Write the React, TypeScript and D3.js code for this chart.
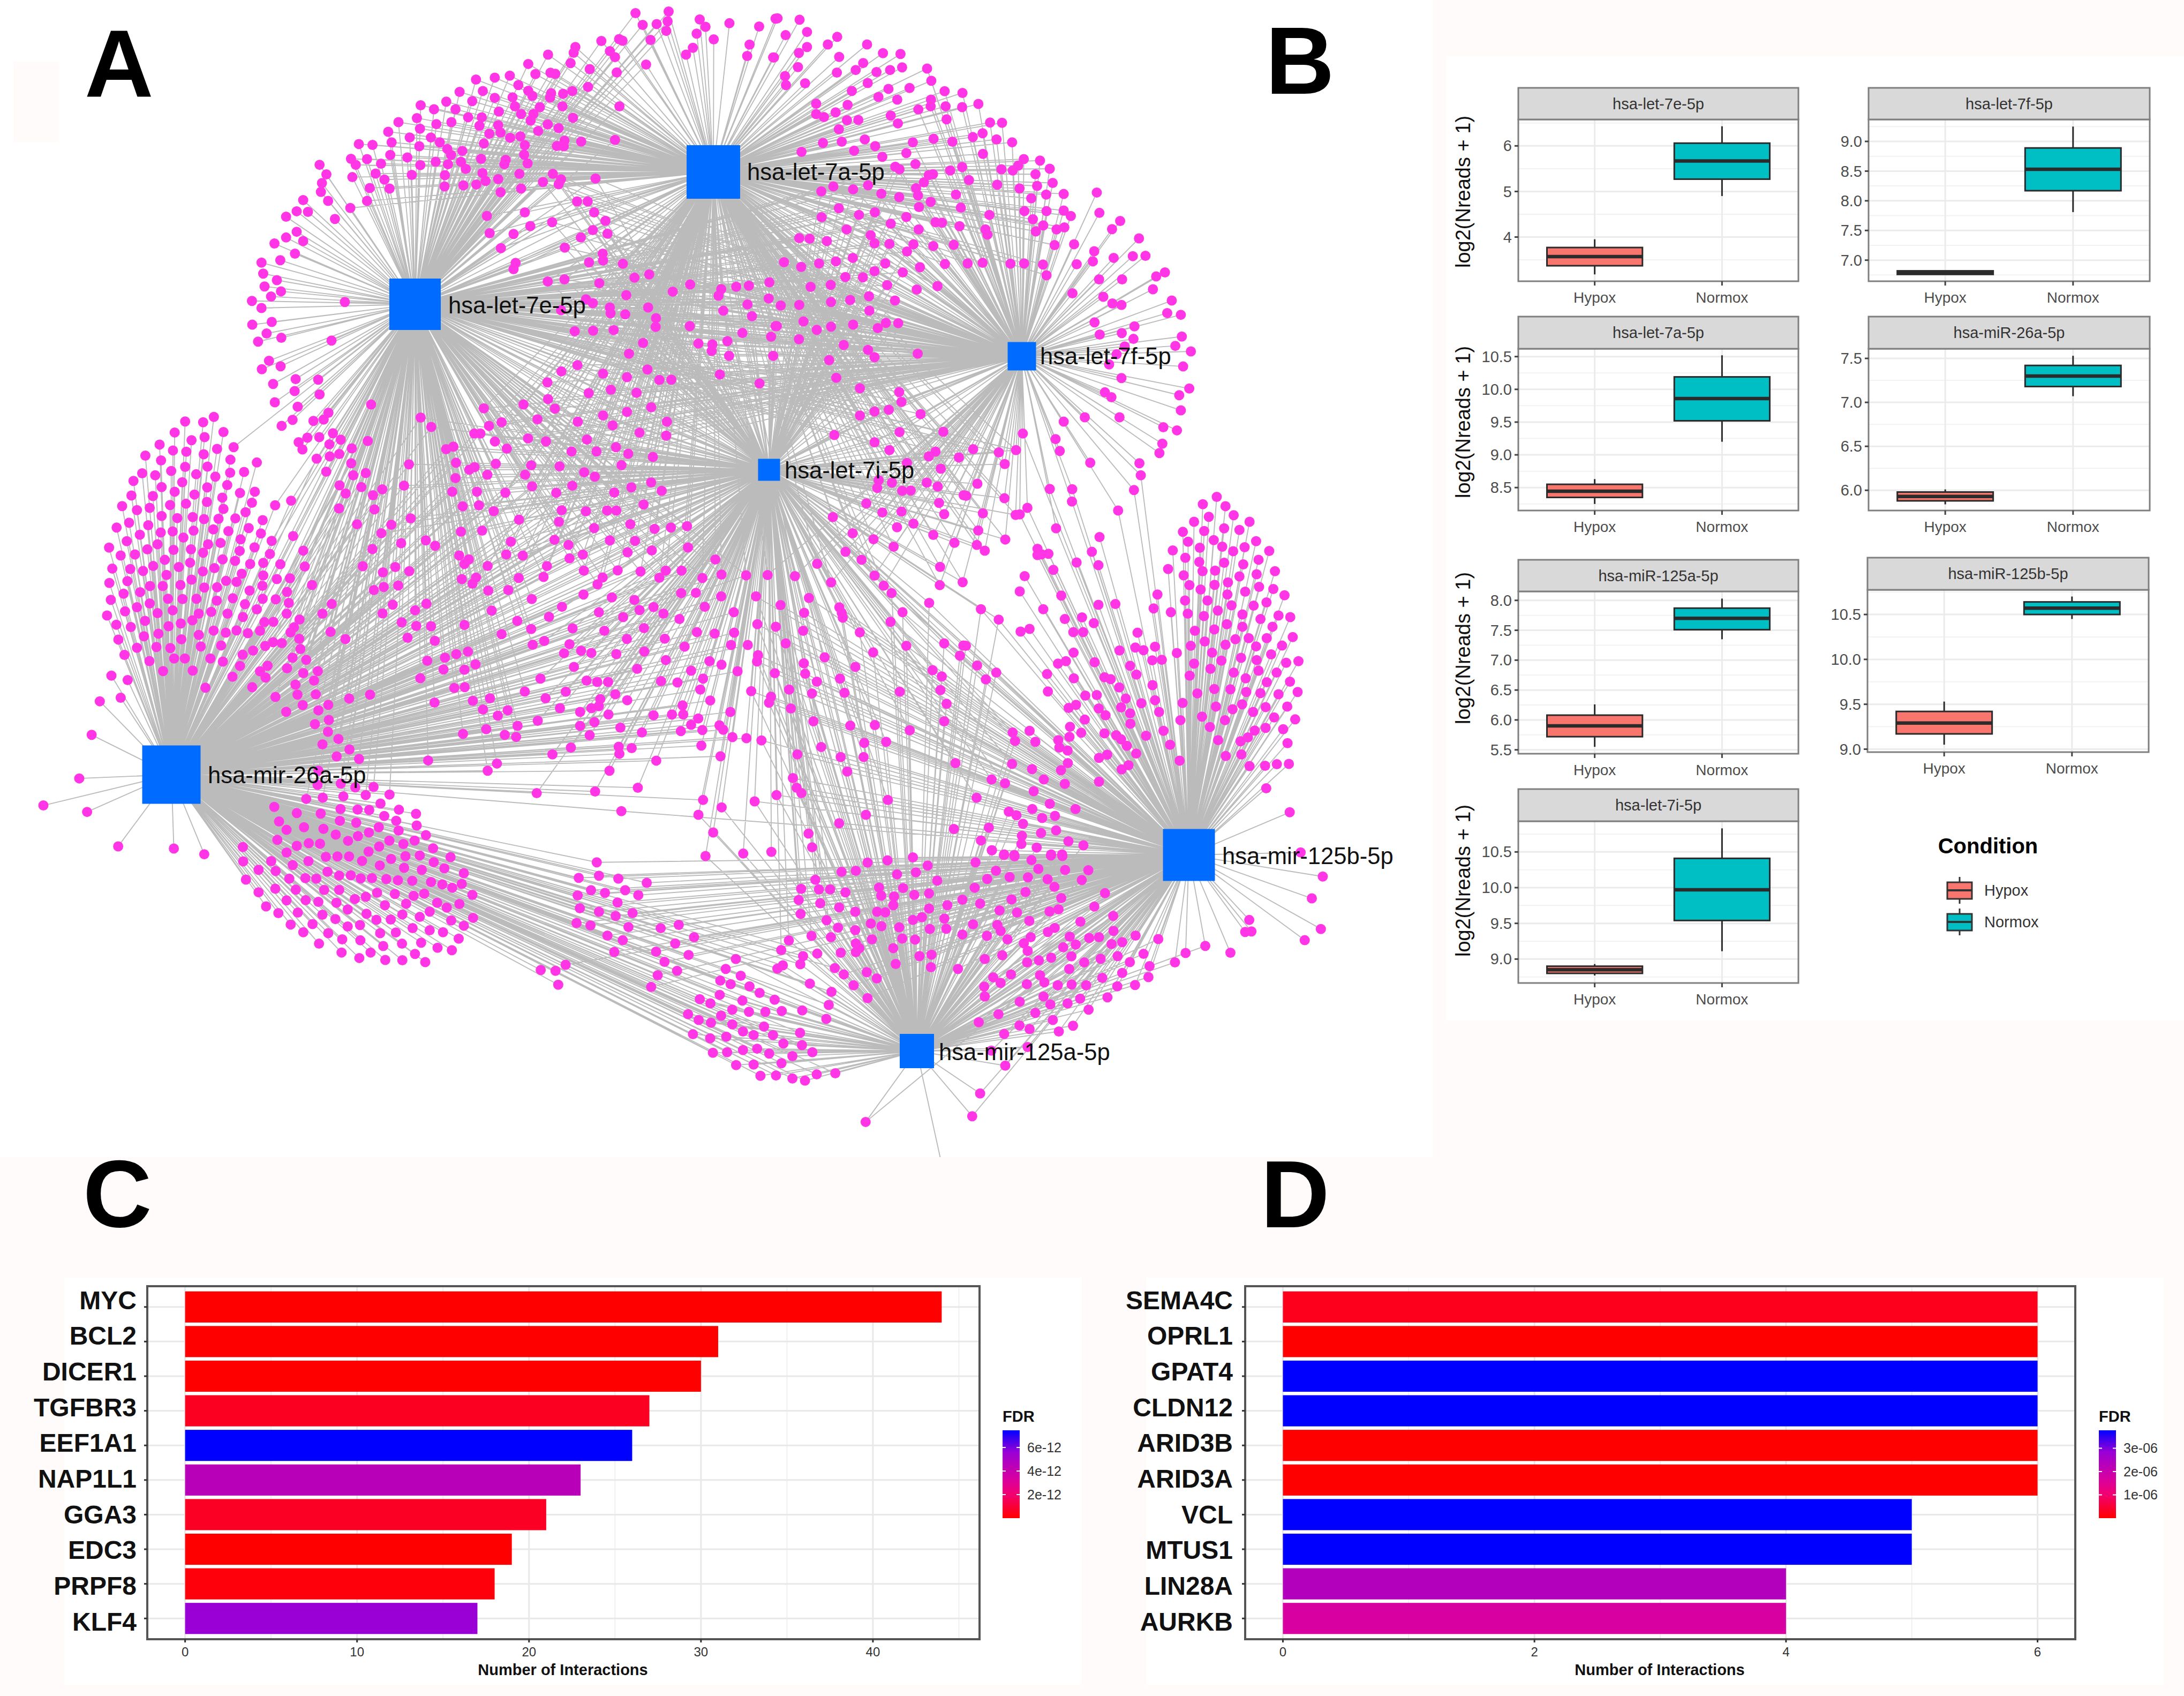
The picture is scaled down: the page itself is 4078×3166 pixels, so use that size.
import * as d3 from "d3";

// ---------- panel A: network, node positions, per crop ----------
type Pt = [number, number];

const hubNames = ["hsa-let-7a-5p", "hsa-let-7e-5p", "hsa-let-7f-5p", "hsa-let-7i-5p", "hsa-mir-26a-5p", "hsa-mir-125b-5p", "hsa-mir-125a-5p"];
const hubKeys = ["7a", "7e", "7f", "7i", "26a", "125b", "125a"];
const hubCentres: Pt[] = [[1332, 321], [775, 568], [1908, 665], [1436, 877], [320, 1446], [2220, 1596], [1712, 1962]];
const hubSides = [100, 96, 53, 41, 109, 97, 64];
const hubLabelAnchors: Pt[] = [[1395, 321], [837, 570], [1942, 665], [1465, 878], [388, 1447], [2282, 1598], [1753, 1964]];

const nodesTopLeft: Pt[] = [[1155,48],[1252,42],[1249,78],[1217,88],[1176,91],[1245,113],[1343,71],[1360,98],[1334,123],[1430,85],[1517,97],[1565,68],[1384,144],[1489,163],[1482,205],[1558,210],[1323,175],[1303,200],[1199,146],[1055,150],[1107,143],[1117,149],[979,172],[974,193],[1080,187],[1095,209],[1186,236],[899,200],[965,231],[841,234],[1021,253],[1100,265],[862,271],[906,266],[920,270],[787,277],[743,284],[688,291],[1016,318],[812,311],[841,332],[853,351],[708,333],[640,336],[970,333],[943,343],[908,341],[905,357],[795,356],[743,358],[677,370],[601,372],[526,385],[1108,389],[941,389],[875,392],[802,389],[820,417],[856,417],[755,408],[628,400],[565,400],[972,431],[848,441],[705,429],[665,429],[616,447],[572,454],[515,432],[461,447],[898,455],[930,469],[753,458],[698,460],[760,485],[870,479],[727,489],[524,471],[431,482],[818,499],[788,504],[494,503],[556,503],[441,521],[582,521],[522,535],[1095,512],[996,518],[947,515],[925,534],[945,535],[831,531],[711,525],[345,527],[385,530],[604,545],[648,552],[437,567],[615,567],[829,566],[487,576],[322,581],[369,582],[703,581],[775,585],[336,603],[410,599],[525,604],[570,592],[644,592],[606,601],[771,601],[839,598],[230,603],[658,618],[250,638],[394,635],[500,640],[326,648],[597,641],[707,633],[815,636],[913,636],[1038,653],[420,657],[237,670],[753,655],[937,656],[716,662],[884,666],[930,674],[689,675],[377,688],[435,690],[596,682],[651,678],[820,690],[234,702],[760,703],[182,732],[255,735],[369,735],[984,737],[1015,737],[163,773],[196,775],[320,761],[132,793],[275,801],[720,790],[831,777],[1034,777],[1067,808],[911,813],[847,827],[163,848],[132,869],[182,882],[1030,842],[728,853],[798,856],[1073,855],[995,869],[98,891],[158,928],[761,908],[948,906],[60,961],[115,952],[1059,928],[1060,953],[1019,960],[804,962],[798,985],[1118,965],[65,1001],[105,1025],[1195,1004],[1152,1016],[898,1030],[947,1022],[1049,1036],[1315,1041],[1264,1067],[1450,1049],[1487,1045],[1547,1033],[1406,1058],[1398,1082],[69,1048],[117,1066],[88,1085],[1128,1080],[1545,1092],[32,1101],[60,1127],[304,1105],[1010,1095],[1030,1109],[1192,1125],[1080,1125],[1082,1146],[1483,1114],[1412,1137],[1125,1150],[1496,1157],[937,1135],[90,1178],[33,1188],[1215,1164],[1214,1196],[1314,1193],[1565,1193],[977,1212],[1031,1210],[1091,1208],[75,1220],[118,1236],[50,1250],[265,1246],[1468,1218],[1552,1232],[1424,1248],[1339,1257],[1380,1260],[1378,1284],[1177,1255],[1136,1294],[1429,1302],[1558,1302],[82,1320],[116,1340],[61,1351],[985,1336],[938,1359],[1190,1352],[1060,1367],[1402,1370],[1130,1380],[160,1387],[226,1389],[1225,1390],[1260,1389],[94,1405],[897,1399],[1518,1403],[157,1431],[230,1443],[1018,1438],[1083,1426],[1158,1437],[899,1460],[99,1472],[381,1480],[827,1480],[166,1488],[711,1494],[919,1495],[1201,1490],[256,1510],[151,1536],[212,1540],[242,1535],[526,1528],[1060,1520],[1130,1507],[868,1534],[763,1545],[1247,1543],[986,1543],[119,1558],[726,1558],[1088,1556],[557,1562]];

const nodesTopRight: Pt[] = [[168,63],[236,68],[259,110],[193,121],[259,162],[234,182],[157,198],[231,231],[191,262],[194,293],[253,287],[352,127],[323,153],[444,153],[358,196],[493,183],[547,186],[432,217],[409,241],[473,248],[515,241],[552,232],[351,250],[629,236],[642,278],[446,286],[575,303],[510,306],[397,313],[683,314],[738,320],[479,334],[537,343],[287,357],[384,361],[641,343],[640,366],[686,366],[737,369],[787,358],[602,377],[287,393],[347,387],[311,403],[517,398],[689,411],[382,414],[417,413],[539,425],[823,422],[860,423],[357,445],[800,459],[770,472],[843,480],[891,490],[649,478],[437,480],[366,488],[308,492],[585,490],[707,488],[469,503],[242,523],[404,519],[565,527],[491,540],[801,530],[927,548],[977,553],[910,570],[593,565],[531,574],[544,583],[737,575],[858,583],[893,587],[1007,581],[700,587],[963,600],[647,600],[634,603],[619,628],[758,620],[1016,630],[845,636],[968,640],[340,642],[447,638],[914,649],[595,648],[401,652],[303,659],[1152,663],[488,667],[543,679],[601,673],[718,670],[996,670],[1050,668],[950,683],[640,695],[604,713],[733,715],[357,717],[1050,725],[997,727],[929,727],[419,740],[468,731],[1160,733],[821,740],[304,748],[1072,744],[565,747],[955,755],[1224,761],[517,770],[655,765],[675,767],[729,779],[987,776],[1052,783],[1028,790],[1199,789],[381,790],[603,790],[809,790],[815,808],[964,797],[235,820],[267,822],[320,830],[455,810],[1282,821],[467,838],[513,840],[587,841],[711,843],[648,847],[1022,844],[1082,841],[567,866],[1144,865],[1204,888],[1263,882],[1302,881],[400,888],[188,903],[241,919],[296,907],[348,900],[500,907],[607,920],[684,909],[754,907],[800,905],[886,908],[928,907],[986,911],[1090,910],[1140,900],[467,934],[377,954],[431,955],[554,938],[997,948],[1362,938],[1335,952],[1159,962],[1230,962],[270,988],[332,981],[506,982],[661,985],[597,997],[1325,996],[1077,1010],[450,1020],[530,1035],[392,1033],[333,1040],[1172,1022],[1383,1035],[1200,1045],[1228,1050],[178,1052],[235,1050],[451,1070],[1369,1078],[1411,1084],[1145,1110],[248,1107],[540,1113],[502,1112],[401,1118],[477,1130],[333,1125],[289,1136],[166,1123],[1268,1124],[1161,1152],[1229,1147],[1414,1159],[1265,1167],[234,1168],[372,1188],[1394,1191],[1238,1193],[1442,1210],[447,1205],[467,1230],[600,1218],[327,1240],[1213,1220],[1190,1255],[1418,1262],[1228,1302],[349,1301],[1437,1338],[1406,1361],[422,1337],[543,1350],[1177,1351],[1197,1368],[550,1384],[1411,1413],[511,1411],[467,1417],[422,1431],[609,1426],[1115,1437],[1222,1437],[1050,1452],[1357,1471],[1399,1482],[343,1498],[544,1488],[679,1487],[924,1493],[1025,1512],[467,1523],[1354,1528],[513,1550],[771,1547],[903,1550],[1038,1553],[850,1558],[655,1555],[1345,1560]];

const nodesLeft: Pt[] = [[361,77],[423,80],[460,59],[325,120],[493,118],[428,138],[383,150],[273,167],[528,177],[319,190],[365,195],[471,184],[425,205],[224,210],[517,226],[278,229],[608,237],[361,254],[438,253],[213,279],[313,270],[258,287],[399,283],[465,292],[516,277],[564,274],[183,309],[351,314],[506,325],[280,333],[437,334],[550,356],[601,351],[176,366],[250,368],[325,351],[393,362],[489,374],[591,394],[144,407],[309,403],[364,398],[436,391],[671,404],[726,386],[195,423],[239,414],[493,418],[569,431],[280,446],[334,454],[387,450],[426,458],[476,457],[534,455],[628,462],[168,472],[234,482],[125,491],[458,498],[580,493],[277,510],[318,506],[390,503],[510,505],[622,514],[205,519],[355,530],[733,524],[160,544],[552,537],[659,543],[266,556],[440,556],[483,551],[99,569],[231,576],[321,578],[381,576],[549,582],[600,568],[768,581],[139,600],[188,596],[423,589],[653,594],[291,617],[490,615],[533,621],[378,628],[585,633],[630,629],[689,634],[110,651],[172,653],[251,641],[339,645],[462,649],[773,643],[216,660],[422,662],[556,671],[297,676],[630,678],[100,707],[162,700],[383,694],[502,699],[538,703],[677,692],[722,689],[240,719],[284,719],[345,715],[427,725],[471,724],[627,718],[798,715],[206,743],[149,749],[583,737],[712,742],[105,773],[302,769],[352,770],[400,769],[470,776],[525,767],[628,769],[673,771],[239,787],[567,790],[718,785],[195,802],[154,818],[318,814],[408,827],[451,820],[507,827],[608,810],[866,789],[92,834],[266,825],[560,840],[711,827],[834,827],[223,855],[386,853],[755,850],[124,870],[174,879],[304,876],[346,865],[634,860],[665,859],[736,880],[724,900],[862,898],[131,928],[219,915],[269,905],[408,910],[459,893],[501,901],[538,892],[577,903],[619,894],[348,927],[913,926],[754,925],[195,960],[262,957],[310,961],[415,955],[485,951],[637,953],[664,938],[694,942],[152,988],[595,971],[758,965],[559,987],[238,1012],[323,1002],[360,1002],[448,1002],[731,999],[778,1007],[491,1014],[550,1031],[645,1030],[712,1040],[285,1051],[387,1049],[619,1052],[818,1051],[107,1069],[163,1086],[524,1073],[638,1076],[768,1059],[805,1088],[741,1104],[431,1116],[592,1114],[748,1143],[811,1142],[139,1155],[67,1169],[672,1152],[854,1183],[926,1158],[998,1143],[766,1184],[820,1204],[709,1210],[856,1242],[808,1258],[39,1300],[853,1288],[889,1316],[834,1337],[927,1357],[883,1384],[960,1394],
  [870,123],[897,148],[858,166],[823,138],[782,140],[752,158],[765,186],[814,222],[859,213],[892,204],[935,182],[990,153],[933,240],[847,273],[940,287],[983,278],[893,326],[914,358],[968,333],[1040,342],[1008,365],[891,416],[1013,420],[1115,327],[1132,244],[1138,455],[953,478],[1071,480],[1037,513],[1105,552],[1190,541],[1222,562],[1006,575],[973,642],[1042,666],[1085,645],[1133,661],[1011,735],[1045,723],[1095,717],[1076,792],[1041,826],[1192,788],[1153,814],[1107,861],[1157,875],[1208,876],[1127,921],[1221,933],[1195,1011],[1256,999],[1295,985],[1335,975],[1251,1045],[1323,1046],[1361,1025],[1171,1079],[1288,1117],[1324,1114],[1220,1174],[1352,1167],[1411,1157],[1387,1201],[1438,1225],[1472,1204],[1531,1131],[1506,1265],[1318,1296],[1398,1278],[1462,1300],[1501,1308],[1198,1400],[1435,1412],[1403,1440],
  [1260,185],[1285,175],[1294,238],[1340,265],[1358,255],[1292,298],[1281,351],[1402,285],[1431,242],[1366,351],[1464,355],[1317,408],[1373,404],[1424,427],[1428,155],[1357,124],[1378,124],[1469,183],[1532,285],[1556,330],[1542,143],[1553,248],[1511,460],[1311,507],[1384,503],[1483,546],[1467,596],[1524,600],[1305,600],[1338,615],[1323,633],[1403,641],[1510,688],[1314,692],[1363,686],[1351,710],[1405,737],[1474,735],[1555,770],[1417,815],[1323,871],[1505,855],[1553,887],[1451,907],[1558,948],
  [820,1440],[817,1495],[897,1490],[947,1505],[1010,1503],[983,1535],[1065,1533],[778,1550],[835,1545],[906,1540]];

const nodesLowerLeft: Pt[] = [[232,567],[127,680],[255,707],[346,851],[509,860],[598,884],[1114,672],[803,686],[869,712],[939,714],[997,695],[1047,697],[1081,699],[1168,698],[1218,715],[1125,724],[1160,744],[1220,764],[817,747],[890,771],[947,778],[995,744],[1043,752],[1109,771],[1167,785],[839,782],[983,802],[1080,793],[1048,808],[1247,804],[812,824],[1019,828],[1214,827],[1140,827],[869,849],[904,838],[937,840],[1181,841],[1268,859],[1110,852],[711,854],[839,877],[1079,873],[954,895],[988,893],[1022,893],[1187,892],[1229,889],[1319,896],[1060,912],[1145,904],[1270,917],[712,914],[794,913],[903,913],[857,929],[1112,931],[1183,941],[1235,949],[1301,943],[757,949],[807,954],[959,957],[993,973],[1027,972],[1056,985],[1089,984],[1131,988],[1165,993],[1207,995],[1358,963],[720,990],[847,986],[894,984],[926,986],[1262,1000],[1295,1010],[1324,1024],[1352,1008],[806,1028],[866,1032],[949,1033],[993,1033],[1104,1045],[1156,1050],[1242,1049],[1383,1054],[757,1043],[1039,1071],[1071,1062],[1211,1058],[839,1077],[895,1076],[932,1083],[985,1087],[1127,1097],[1189,1091],[1280,1087],[1308,1107],[1345,1092],[779,1102],[815,1130],[872,1128],[1018,1115],[1073,1133],[1178,1136],[1258,1124],[944,1137],[982,1155],[1102,1158],[1144,1157],[1229,1146],[1321,1161],[1385,1150],[851,1178],[915,1176],[1018,1186],[1054,1180],[1358,1183],[888,1210],[961,1214],[1113,1214],[1159,1211],[1208,1193],[1258,1202],[1297,1210],[1002,1240],[1055,1244],[1343,1237],[934,1258],[1122,1268],[1177,1258],[1233,1254],[1281,1275],[1323,1285],[1000,1295],[1085,1295],[1215,1301],[1052,1318],[1128,1326],[1178,1327],[1245,1335]];

const nodesCentre: Pt[] = [[344,243],[464,236],[549,264],[419,280],[492,280],[585,288],[657,300],[618,211],[696,222],[384,334],[565,330],[456,356],[487,372],[421,405],[652,393],[594,411],[374,431],[544,430],[683,424],[630,474],[390,495],[461,499],[523,496],[550,496],[382,537],[591,546],[485,560],[662,563],[710,558],[757,553],[369,603],[531,605],[605,607],[410,622],[760,631],[583,649],[654,642],[452,657],[413,671],[840,675],[347,699],[455,716],[554,715],[621,719],[695,716],[676,742],[741,716],[337,739],[510,741],[495,766],[802,743],[858,730],[930,733],[993,732],[454,803],[537,814],[740,798],[783,797],[857,810],[959,810],[603,823],[391,848],[659,849],[809,848],[1031,842],[499,868],[618,860],[688,873],[570,886],[735,893],[894,868],[353,885],[422,927],[515,936],[631,926],[786,941],[838,946],[895,943],[963,912],[1017,921],[339,973],[581,966],[692,965],[413,985],[750,994],[886,988],[935,988],[1046,982],[447,1009],[397,1018],[477,1017],[550,1021],[632,1012],[965,1025],[962,1048],[695,1043],[823,1047],[858,1060],[426,1068],[611,1075],[769,1082],[905,1084],[1014,1091],[328,1111],[463,1118],[494,1123],[526,1123],[681,1120],[729,1125],[804,1111],[402,1159],[796,1151],[945,1157],[1056,1151],[343,1183],[547,1168],[582,1190],[503,1186],[825,1191],[1003,1177],[997,1199],[385,1219],[444,1233],[477,1219],[499,1212],[744,1209],[884,1233],[1061,1220],[527,1242],[659,1245],[713,1242],[746,1242],[320,1265],[486,1270],[790,1257],[769,1280],[852,1282],[444,1284],[562,1290],[863,1298],[739,1303],[802,1299],[625,1308],[472,1318],[890,1325],[931,1329],[975,1337],[557,1360],[595,1365],[799,1356],[417,1363],[363,1388],[559,1386],[667,1411],[855,1395],[1080,1388],[530,1448],[1067,1475],[488,1524],[613,1510],[1078,1510],[1092,1530],[1019,1537],[317,1530],[804,1555],[955,1560],
  [1500,343],[1401,322],[1553,302],[1465,298],[1318,385],[1314,413],[1357,394],[1459,394],[1491,408],[1387,424],[1412,423],[1567,440],[1282,470],[1495,468],[1329,503],[1385,500],[1510,509],[1184,520],[1420,544],[1372,557],[1242,579],[1478,585],[1303,601],[1540,614],[1362,628],[1221,647],[1268,676],[1138,691],[1498,702],[1073,736],[1306,734],[1179,759],[1564,758],[1333,771],[1497,769],[1356,798],[1114,816],[1466,834],[1203,850],[1100,870],[1388,868],[1210,870],[1213,888],[1353,903],[1097,936],[1263,942],[1510,982],[1399,991],[1566,990],[1302,1015],[1556,1027],[1160,1033],[1099,1055],[1250,1068],[1476,1080],[1103,1093],[1503,1103],[1137,1122],[1205,1111],[1380,1159],[1123,1165],[1218,1163],[1499,1153],[1517,1203],[1127,1267],[1510,1267],[1235,1283],[1307,1281],[1409,1300],[1276,1346],[1340,1342],[1150,1361],[1207,1398],[1274,1398],[1543,1420],[1226,1451],[1345,1555]];

const nodesRight: Pt[] = [[345,130],[658,125],[843,171],[838,127],[818,225],[245,202],[510,221],[592,222],[204,246],[344,255],[591,267],[760,300],[428,290],[400,314],[385,316],[265,310],[248,373],[533,365],[347,406],[692,397],[243,426],[272,447],[465,440],[480,460],[505,458],[465,463],[664,451],[608,490],[688,500],[523,517],[418,540],[552,611],[400,596],[904,607],[688,645],[750,642],[890,658],[953,672],[258,661],[486,661],[323,699],[565,697],[628,691],[671,712],[403,743],[436,733],[596,745],[632,745],[831,747],[203,795],[765,812],[823,801],[853,811],[895,798],[597,820],[569,851],[540,860],[885,848],[920,846],[975,821],[674,855],[244,867],[314,893],[276,918],[804,868],[500,898],[827,900],[598,914],[710,910],[733,917],[886,939],[764,947],[503,962],[640,977],[682,975],[895,994],[788,988],[845,1005],[606,1011],[579,1022],[689,1024],[771,1020],[804,1042],[714,1049],[910,1037],[638,1065],[805,1080],[584,1091],[436,1106],[374,1112],[710,1115],[753,1122],[625,1113],[926,1106],[582,1128],[383,1143],[457,1146],[771,1137],[541,1140],[862,1124],[792,1161],[950,1157],[545,1167],[575,1178],[826,1189],[720,1193],[690,1205],[576,1224],[372,1227],[985,1215],[798,1232],[773,1247],[551,1250],[445,1246],[297,1284],[346,1298],[488,1284],[565,1300],[690,1292],[451,1327],[242,1351],[510,1373],[360,1402],[388,1415],[446,1392],[604,1392],[412,1446],[482,1425],[529,1417],[287,1460],[533,1470],[478,1480],[408,1490],[258,1507],[578,1510],[633,1525],[406,1520],[298,1543],[462,1533],[343,1558],[380,1560],[515,1558],[555,1558],
  [1121,250],[1070,277],[1153,284],[1183,317],[1092,323],[1038,341],[1241,341],[1075,375],[997,378],[1148,365],[1204,371],[1016,414],[1110,408],[1059,436],[1141,432],[1265,412],[960,446],[1223,434],[1181,449],[1313,448],[1006,473],[1057,488],[1274,480],[1148,491],[1218,497],[943,514],[1069,522],[1115,520],[1334,522],[1000,537],[1267,533],[1204,541],[1162,563],[1021,573],[1113,572],[1276,579],[1062,589],[1328,587],[1225,597],[1160,607],[1369,610],[1005,629],[1087,629],[1303,636],[1175,647],[1256,648],[1125,666],[1015,677],[1215,680],[1074,686],[1347,684],[1390,690],[1281,697],[1158,716],[1215,725],[1325,725],[1112,735],[1041,740],[1399,763],[1304,767],[1238,767],[1189,771],[1077,779],[1153,791],[1026,795],[1265,797],[1360,794],[1104,820],[1320,826],[1210,839],[1138,849],[1267,847],[1038,860],[1375,857],[1420,851],[1098,879],[1274,886],[1183,893],[1340,893],[1022,904],[1227,914],[1389,926],[1304,928],[1112,953],[1171,954],[1050,969],[1229,964],[1281,968],[1347,972],[1417,964],[996,1004],[1118,1017],[1214,1009],[1179,1027],[1300,1019],[1379,1017],[1254,1037],[1067,1054],[1331,1057],[988,1067],[1151,1067],[1408,1064],[1096,1092],[1300,1095],[1364,1100],[1260,1105],[1235,1130],[1126,1140],[1208,1144],[1380,1151],[1154,1198],[1211,1192],[1241,1235],[1298,1234],[1341,1228],[1385,1227],[1302,1316],[1388,1404]];

const nodesBottomMid: Pt[] = [[314,224],[681,210],[596,237],[650,302],[622,388],[760,379],[863,373],[999,306],[1012,356],[1111,268],[1209,237],[1531,289],[224,411],[158,468],[232,460],[303,471],[407,486],[203,513],[254,523],[328,513],[376,531],[154,532],[300,558],[162,579],[232,592],[293,607],[355,597],[150,633],[201,642],[340,648],[263,679],[319,696],[288,739],[458,652],[524,640],[580,685],[511,708],[441,738],[560,750],[472,775],[518,808],[447,824],[423,867],[110,786],[19,805],[73,808],[83,859],[733,765],[696,801],[751,826],[676,844],[714,857],[783,865],[820,889],[674,896],[601,912],[640,927],[757,917],[875,914],[720,950],[781,958],[841,958],[901,955],[976,953],[558,967],[597,988],[642,998],[679,972],[720,1004],[836,1012],[759,1030],[798,1043],[869,1043],[968,1035],[576,1040],[639,1055],[698,1049],[907,1074],[975,1080],[649,1108],[701,1106],[759,1098],[811,1093],[855,1111],[940,1120],[1013,1106],[734,1153],[798,1151],[900,1146],[823,1192],[880,1191],[940,1202],[986,1210],[1029,1187],[1097,1183],[1208,1361],[1215,412],[1288,404],[1381,393],[1435,423],[1120,446],[1172,442],[1323,455],[1392,448],[1470,478],[1024,475],[972,508],[1037,510],[1078,510],[1134,521],[1257,503],[1345,505],[1265,533],[1312,536],[1386,530],[1440,525],[963,549],[1042,561],[1111,576],[1562,548],[970,600],[1170,592],[1250,592],[1280,594],[1309,568],[1440,580],[1507,568],[1065,623],[1227,635],[1414,612],[1381,622],[1496,617],[1107,650],[1170,659],[1266,645],[1331,649],[1443,655],[1503,654],[1010,680],[1081,685],[1231,693],[1342,690],[1389,694],[1562,675],[927,697],[899,732],[1172,708],[1185,725],[1172,740],[1309,725],[979,754],[1031,745],[1117,742],[1405,754],[1449,749],[969,784],[905,788],[885,800],[1095,798],[1128,821],[1318,783],[1447,795],[1546,801],[1212,813],[1249,836],[1004,855],[1164,861],[1083,885],[1215,908],[1073,933],[1064,984]];

const nodesBottomRight: Pt[] = [[1330,375],[1411,463],[1371,543],[1404,655],[1345,696],[1142,622],[1127,666],[1150,664],[1073,742],[981,717],[909,743],[870,777],[458,388],[416,386],[283,389],[244,384],[200,367],[345,403],[140,411],[370,435],[468,439],[553,440],[215,442],[183,472],[265,465],[332,466],[404,473],[529,476],[137,504],[429,501],[323,520],[614,524],[272,547],[454,542],[157,562],[575,573],[228,587],[292,595],[411,591],[444,583],[644,607],[337,625],[524,628],[131,638],[220,640],[430,651],[405,666],[645,662],[232,662],[182,680],[257,693],[342,685],[485,683],[556,688],[592,685],[726,679],[809,692],[317,707],[507,712],[638,710],[677,703],[331,735],[461,722],[238,751],[174,765],[417,760],[491,755],[598,764],[660,754],[755,746],[329,777],[372,770],[538,777],[705,776],[777,791],[483,801],[270,821],[376,824],[205,832],[232,852],[392,850],[604,834],[677,816],[773,831],[172,866],[328,857],[441,861],[492,858],[545,861],[659,865],[724,860],[174,902],[389,902],[523,910],[623,905],[302,921],[414,931],[477,927],[554,950],[359,962],[224,967],[423,988],[152,996],[301,1008],[497,1009],[338,1021],[445,1030],[245,1039],[331,1087],[198,1100],[249,1155],[157,1257],[128,1340]];

// [points, left, top, width, height of the area they were read from, all read on a 1568 square]
const nodeSheets: [Pt[], number, number, number, number][] = [
  [nodesTopLeft, 450, 0, 1000, 800],
  [nodesTopRight, 1350, 0, 950, 850],
  [nodesLeft, 150, 750, 850, 750],
  [nodesLowerLeft, 0, 1200, 1000, 700],
  [nodesCentre, 800, 700, 1000, 800],
  [nodesRight, 1700, 800, 800, 800],
  [nodesBottomMid, 1000, 1400, 800, 800],
  [nodesBottomRight, 1750, 1400, 800, 800],
];

// which miRNAs the targets of each part of the layout connect to, first match wins
const rect = (x0: number, y0: number, x1: number, y1: number): Pt[] => [[x0, y0], [x1, y0], [x1, y1], [x0, y1]];
const linkZones: [Pt[], string[]][] = [
  [rect(2170, 880, 2600, 1720), ["125b"]],
  [rect(1700, 0, 2000, 620), ["7a", "7f"]],
  [rect(1920, 0, 2600, 880), ["7f"]],
  [rect(1280, 0, 1700, 300), ["7a"]],
  [rect(1000, 0, 1280, 300), ["7a", "7e"]],
  [rect(640, 100, 1000, 520), ["7e", "7a"]],
  [rect(430, 100, 640, 850), ["7e"]],
  [rect(0, 700, 500, 1720), ["26a"]],
  [rect(500, 850, 700, 1400), ["26a", "7e"]],
  [rect(640, 520, 700, 850), ["7e"]],
  [rect(700, 520, 900, 1000), ["7e", "7i", "26a"]],
  [rect(900, 270, 1900, 850), ["7e", "7a", "7i", "7f"]],
  [rect(900, 850, 1400, 1100), ["7e", "7a", "7i", "26a"]],
  [rect(1400, 850, 1900, 1100), ["7a", "7i", "7f"]],
  [rect(1900, 620, 2170, 1000), ["7f", "125b"]],
  [rect(1900, 1000, 2170, 1560), ["125b"]],
  [rect(1400, 1100, 1900, 1500), ["7i", "125b", "125a"]],
  [rect(1000, 1100, 1400, 1500), ["7i", "26a"]],
  [rect(500, 1000, 1000, 1500), ["26a", "7e"]],
  [rect(450, 1500, 1050, 1880), ["26a"]],
  [rect(1050, 1500, 1300, 1880), ["26a", "125b"]],
  [rect(1270, 1780, 1560, 2150), ["26a", "125a"]],
  [rect(1300, 1500, 1560, 1780), ["125a", "7i"]],
  [rect(1500, 1500, 2280, 2200), ["125a", "125b"]],
];

// ---------- panel B: boxplots ----------
const boxTitles = ["hsa-let-7e-5p", "hsa-let-7f-5p", "hsa-let-7a-5p", "hsa-miR-26a-5p", "hsa-miR-125a-5p", "hsa-miR-125b-5p", "hsa-let-7i-5p"];
const conditions = ["Hypox", "Normox"];
// low whisker, q1, median, q3, high whisker
const hypoxStats = [
  [3.18, 3.37, 3.57, 3.77, 3.95],
  [6.79, 6.76, 6.79, 6.82, 6.79],
  [8.25, 8.35, 8.445, 8.55, 8.63],
  [5.84, 5.88, 5.93, 5.98, 6.01],
  [5.55, 5.72, 5.9, 6.08, 6.26],
  [9.05, 9.17, 9.29, 9.42, 9.53],
  [8.77, 8.8, 8.85, 8.9, 8.93],
];
const normoxStats = [
  [4.9, 5.27, 5.67, 6.06, 6.43],
  [7.81, 8.17, 8.53, 8.89, 9.25],
  [9.2, 9.52, 9.86, 10.19, 10.52],
  [7.07, 7.18, 7.3, 7.42, 7.53],
  [7.35, 7.51, 7.7, 7.87, 8.03],
  [10.45, 10.5, 10.57, 10.64, 10.7],
  [9.11, 9.54, 9.97, 10.41, 10.83],
];
const boxYLimits = [[3.03, 6.58], [6.645, 9.37], [8.15, 10.62], [5.77, 7.61], [5.435, 8.15], [8.967, 10.775], [8.665, 10.93]];
const boxYTicks = [[4, 5, 6], [7, 7.5, 8, 8.5, 9], [8.5, 9, 9.5, 10, 10.5], [6, 6.5, 7, 7.5], [5.5, 6, 6.5, 7, 7.5, 8], [9, 9.5, 10, 10.5], [9, 9.5, 10, 10.5]];
const boxTickDigits = [0, 1, 1, 1, 1, 1, 1];
const hypoxColor = "#F8766D";
const normoxColor = "#00BFC4";

// left, right, strip top, plot top, plot bottom, centre of the y title
const facets = [
  [2835, 3358, 164, 223, 525, 358],
  [3489, 4014, 164, 223, 525, 0],
  [2835, 3358, 591, 651, 953, 788],
  [3489, 4014, 591, 651, 953, 0],
  [2835, 3358, 1045, 1104, 1407, 1210],
  [3487, 4012, 1041, 1101, 1404, 0],
  [2835, 3358, 1473, 1533, 1835, 1644],
];

// ---------- panels C and D: bars ----------
const genesC = ["MYC", "BCL2", "DICER1", "TGFBR3", "EEF1A1", "NAP1L1", "GGA3", "EDC3", "PRPF8", "KLF4"];
const interactionsC = [44, 31, 30, 27, 26, 23, 21, 19, 18, 17];
const fdrC = [0.01e-12, 0.02e-12, 0.01e-12, 0.6e-12, 7.46e-12, 4.5e-12, 0.65e-12, 0.01e-12, 0.2e-12, 5.6e-12];
const ticksC = [0, 10, 20, 30, 40];
const legendTicksC = [2e-12, 4e-12, 6e-12];
const legendLabelsC = ["2e-12", "4e-12", "6e-12"];

const genesD = ["SEMA4C", "OPRL1", "GPAT4", "CLDN12", "ARID3B", "ARID3A", "VCL", "MTUS1", "LIN28A", "AURKB"];
const interactionsD = [6, 6, 6, 6, 6, 6, 5, 5, 4, 4];
const fdrD = [0.25e-6, 0.01e-6, 3.77e-6, 3.77e-6, 0.01e-6, 0.01e-6, 3.77e-6, 3.77e-6, 2.35e-6, 1.7e-6];
const ticksD = [0, 2, 4, 6];
const legendTicksD = [1e-6, 2e-6, 3e-6];
const legendLabelsD = ["1e-06", "2e-06", "3e-06"];

// colour ramp of the FDR bars, as a share of the largest FDR
const fdrShares = [0, 0.27, 0.45, 0.62, 0.75, 1];
const fdrColors = ["#ff0000", "#f20070", "#d800a0", "#b400bc", "#9a00d5", "#0000ff"];

const FONT = "'Liberation Sans', Arial, sans-serif";

function Network() {
  const hubAt = new Map(hubKeys.map((k, i) => [k, hubCentres[i]]));
  const nodes: Pt[] = nodeSheets.flatMap(([pts, x0, y0, w, h]) => {
    const sx = d3.scaleLinear().domain([0, 1568]).range([x0, x0 + w]);
    const sy = d3.scaleLinear().domain([0, 1568]).range([y0, y0 + h]);
    return pts.map(([x, y]): Pt => [sx(x), sy(y)]);
  });
  const linksOf = (p: Pt) => {
    const zone = linkZones.find(([poly]) => d3.polygonContains(poly, p));
    return zone ? zone[1] : ["125b"];
  };
  const edges = d3.path();
  nodes.forEach(p => {
    linksOf(p).forEach(k => {
      const hub = hubAt.get(k)!;
      edges.moveTo(p[0], p[1]);
      edges.lineTo(hub[0], hub[1]);
    });
  });
  // the target that is cut by the lower panels
  edges.moveTo(1712, 1962);
  edges.lineTo(1762, 2190);

  return (
    <g>
      <path d={edges.toString()} fill="none" stroke="#bbbbbb" strokeWidth={1.9} />
      {nodes.map((p, i) => (
        <circle key={i} cx={p[0]} cy={p[1]} r={9.5} fill="#ff35e6" />
      ))}
      {hubKeys.map((k, i) => (
        <rect key={k} x={hubCentres[i][0] - hubSides[i] / 2} y={hubCentres[i][1] - hubSides[i] / 2}
          width={hubSides[i]} height={hubSides[i]} fill="#006cff" />
      ))}
      {hubNames.map((name, i) => (
        <text key={name} x={hubLabelAnchors[i][0]} y={hubLabelAnchors[i][1]} dy="0.35em"
          fontFamily={FONT} fontSize={43.6} fill="#111">{name}</text>
      ))}
    </g>
  );
}

function Box({ stats, color, cx, width, y }: { stats: number[]; color: string; cx: number; width: number; y: d3.ScaleLinear<number, number> }) {
  const [low, q1, med, q3, high] = stats;
  return (
    <g stroke="#2b2b2b">
      <line x1={cx} x2={cx} y1={y(low)} y2={y(high)} strokeWidth={3} />
      <rect x={cx - width / 2} width={width} y={y(q3)} height={y(q1) - y(q3)} fill={color} strokeWidth={3} />
      <line x1={cx - width / 2} x2={cx + width / 2} y1={y(med)} y2={y(med)} strokeWidth={6.5} />
    </g>
  );
}

function Facet({ i }: { i: number }) {
  const [left, right, stripTop, top, bottom, titleY] = facets[i];
  const x = d3.scaleLinear().domain([0.4, 2.6]).range([left, right]);
  const y = d3.scaleLinear().domain(boxYLimits[i]).range([bottom, top]);
  const ticks = boxYTicks[i];
  const step = ticks[1] - ticks[0];
  const minor = d3.range(ticks[0] - step / 2, ticks[ticks.length - 1] + step, step).filter(v => y(v) > top && y(v) < bottom);
  const boxW = x(1.75) - x(1);
  return (
    <g fontFamily={FONT}>
      <rect x={left} y={top} width={right - left} height={bottom - top} fill="#fff" />
      {minor.map(v => <line key={v} x1={left} x2={right} y1={y(v)} y2={y(v)} stroke="#f2f2f2" strokeWidth={2} />)}
      {ticks.map(v => <line key={v} x1={left} x2={right} y1={y(v)} y2={y(v)} stroke="#ebebeb" strokeWidth={3} />)}
      {[1, 2].map(v => <line key={v} x1={x(v)} x2={x(v)} y1={top} y2={bottom} stroke="#ebebeb" strokeWidth={3} />)}
      <Box stats={hypoxStats[i]} color={hypoxColor} cx={x(1)} width={boxW} y={y} />
      <Box stats={normoxStats[i]} color={normoxColor} cx={x(2)} width={boxW} y={y} />
      <rect x={left} y={top} width={right - left} height={bottom - top} fill="none" stroke="#7f7f7f" strokeWidth={3} />
      <rect x={left} y={stripTop} width={right - left} height={top - stripTop} fill="#d9d9d9" stroke="#7f7f7f" strokeWidth={3} />
      <text x={(left + right) / 2} y={(stripTop + top) / 2} dy="0.35em" textAnchor="middle" fontSize={29} fill="#333">{boxTitles[i]}</text>
      {ticks.map(v => (
        <g key={v}>
          <line x1={left - 7} x2={left} y1={y(v)} y2={y(v)} stroke="#444" strokeWidth={3} />
          <text x={left - 12} y={y(v)} dy="0.35em" textAnchor="end" fontSize={29} fill="#4d4d4d">{v.toFixed(boxTickDigits[i])}</text>
        </g>
      ))}
      {conditions.map((c, k) => (
        <g key={c}>
          <line x1={x(k + 1)} x2={x(k + 1)} y1={bottom} y2={bottom + 8} stroke="#444" strokeWidth={3} />
          <text x={x(k + 1)} y={bottom + 30} dy="0.35em" textAnchor="middle" fontSize={28} fill="#4d4d4d">{c}</text>
        </g>
      ))}
      {titleY > 0 && (
        <text transform={`translate(2732,${titleY}) rotate(-90)`} textAnchor="middle" dy="0.35em" fontSize={38} fill="#111">log2(Nreads + 1)</text>
      )}
    </g>
  );
}

function ConditionLegend() {
  const keys = [[1662, hypoxColor], [1721, normoxColor]] as [number, string][];
  return (
    <g fontFamily={FONT}>
      <text x={3712} y={1579} dy="0.35em" textAnchor="middle" fontWeight={700} fontSize={40} fill="#000">Condition</text>
      {conditions.map((c, i) => {
        const [cy, color] = keys[i];
        return (
          <g key={c}>
            <line x1={3659} x2={3659} y1={cy - 25} y2={cy + 25} stroke="#333" strokeWidth={3} />
            <rect x={3636} y={cy - 15} width={46} height={31} fill={color} stroke="#333" strokeWidth={3} />
            <line x1={3636} x2={3682} y1={cy} y2={cy} stroke="#333" strokeWidth={4} />
            <text x={3705} y={cy} dy="0.35em" fontSize={29} fill="#333">{c}</text>
          </g>
        );
      })}
    </g>
  );
}

type BarProps = {
  id: string; genes: string[]; values: number[]; fdr: number[]; ticks: number[];
  xMax: number; left: number; right: number; labelRight: number; titleX: number; barLeft: number;
  legendTicks: number[]; legendLabels: string[]; fdrMax: number;
};

function BarPanel({ id, genes, values, fdr, ticks, xMax, left, right, labelRight, titleX, barLeft, legendTicks, legendLabels, fdrMax }: BarProps) {
  const top = 2401, bottom = 3060;
  const x = d3.scaleLinear().domain([-xMax * 0.05, xMax * 1.05]).range([left, right]);
  const y = d3.scaleBand().domain(genes).range([top, bottom]).paddingInner(0.1).paddingOuter(0.15);
  // the gene names were pasted on a little wider apart than the bars
  const labelY = d3.scalePoint().domain(genes).range([2427, 3027]);
  const color = d3.scaleLinear<string>().domain(fdrShares.map(s => s * fdrMax)).range(fdrColors);
  const legendY = d3.scaleLinear().domain([0, fdrMax]).range([2834, 2670]);
  const stops = d3.range(0, 1.01, 0.05);
  const minor = ticks.slice(0, -1).map(t => t + (ticks[1] - ticks[0]) / 2).concat(ticks[ticks.length - 1] + (ticks[1] - ticks[0]) / 2).filter(v => x(v) < right);
  const cy = (g: string) => y(g)! + y.bandwidth() / 2;
  return (
    <g fontFamily={FONT}>
      <defs>
        <linearGradient id={id} x1="0" x2="0" y1="1" y2="0">
          {stops.map(t => <stop key={t} offset={t} stopColor={color(t * fdrMax)} />)}
        </linearGradient>
      </defs>
      <rect x={left} y={top} width={right - left} height={bottom - top} fill="#fff" />
      {minor.map(v => <line key={v} x1={x(v)} x2={x(v)} y1={top} y2={bottom} stroke="#f0f0f0" strokeWidth={2} />)}
      {ticks.map(v => <line key={v} x1={x(v)} x2={x(v)} y1={top} y2={bottom} stroke="#e8e8e8" strokeWidth={3} />)}
      {genes.map(g => <line key={g} x1={left} x2={right} y1={cy(g)} y2={cy(g)} stroke="#e8e8e8" strokeWidth={3} />)}
      {genes.map((g, i) => (
        <rect key={g} x={x(0)} width={x(values[i]) - x(0)} y={y(g)} height={y.bandwidth()} fill={color(fdr[i])} />
      ))}
      <rect x={left} y={top} width={right - left} height={bottom - top} fill="none" stroke="#555" strokeWidth={4} />
      {genes.map(g => (
        <g key={g}>
          <line x1={left - 6} x2={left} y1={cy(g)} y2={cy(g)} stroke="#333" strokeWidth={3} />
          <text x={labelRight} y={labelY(g)} dy="0.35em" textAnchor="end" fontWeight={700} fontSize={48} fill="#111">{g}</text>
        </g>
      ))}
      {ticks.map(v => (
        <g key={v}>
          <line x1={x(v)} x2={x(v)} y1={bottom} y2={bottom + 6} stroke="#333" strokeWidth={3} />
          <text x={x(v)} y={3084} dy="0.35em" textAnchor="middle" fontSize={24} fill="#333">{v}</text>
        </g>
      ))}
      <text x={titleX} y={3117} dy="0.35em" textAnchor="middle" fontWeight={700} fontSize={29} fill="#111">Number of Interactions</text>
      <text x={barLeft} y={2644} dy="0.35em" fontWeight={700} fontSize={29} fill="#111">FDR</text>
      <rect x={barLeft} y={2670} width={32} height={164} fill={`url(#${id})`} />
      {legendTicks.map((v, i) => (
        <g key={v}>
          <line x1={barLeft} x2={barLeft + 6} y1={legendY(v)} y2={legendY(v)} stroke="#fff" strokeWidth={2} />
          <line x1={barLeft + 26} x2={barLeft + 32} y1={legendY(v)} y2={legendY(v)} stroke="#fff" strokeWidth={2} />
          <text x={barLeft + 46} y={legendY(v)} dy="0.35em" fontSize={25} fill="#333">{legendLabels[i]}</text>
        </g>
      ))}
    </g>
  );
}

function PanelLetters() {
  const letters = [["A", 158, 180], ["B", 2363, 175], ["C", 155, 2290], ["D", 2354, 2291]] as [string, number, number][];
  return (
    <g fontFamily={FONT} fontWeight={700} fontSize={178} fill="#000">
      {letters.map(([t, x, y]) => <text key={t} x={x} y={y}>{t}</text>)}
    </g>
  );
}

export default function App() {
  const tint = "#fffbfb";
  return (
    <svg width={4078} height={3166} viewBox="0 0 4078 3166" style={{ position: "absolute", left: 0, top: 0, display: "block", background: "#fff" }}>
      <rect x={25} y={115} width={85} height={150} fill={tint} />
      <Network />
      <rect x={2675} y={0} width={1403} height={2160} fill={tint} />
      <rect x={2700} y={105} width={1378} height={1800} fill="#fff" />
      <rect x={0} y={2160} width={4078} height={1006} fill={tint} />
      <rect x={120} y={2385} width={1900} height={760} fill="#fff" />
      <rect x={2140} y={2385} width={1900} height={760} fill="#fff" />
      {facets.map((_, i) => <Facet key={i} i={i} />)}
      <ConditionLegend />
      <BarPanel id="fdr-c" genes={genesC} values={interactionsC} fdr={fdrC} ticks={ticksC} xMax={44}
        left={275} right={1829} labelRight={255} titleX={1051} barLeft={1872}
        legendTicks={legendTicksC} legendLabels={legendLabelsC} fdrMax={7.46e-12} />
      <BarPanel id="fdr-d" genes={genesD} values={interactionsD} fdr={fdrD} ticks={ticksD} xMax={6}
        left={2325} right={3875} labelRight={2302} titleX={3099} barLeft={3919}
        legendTicks={legendTicksD} legendLabels={legendLabelsD} fdrMax={3.77e-6} />
      <PanelLetters />
    </svg>
  );
}
